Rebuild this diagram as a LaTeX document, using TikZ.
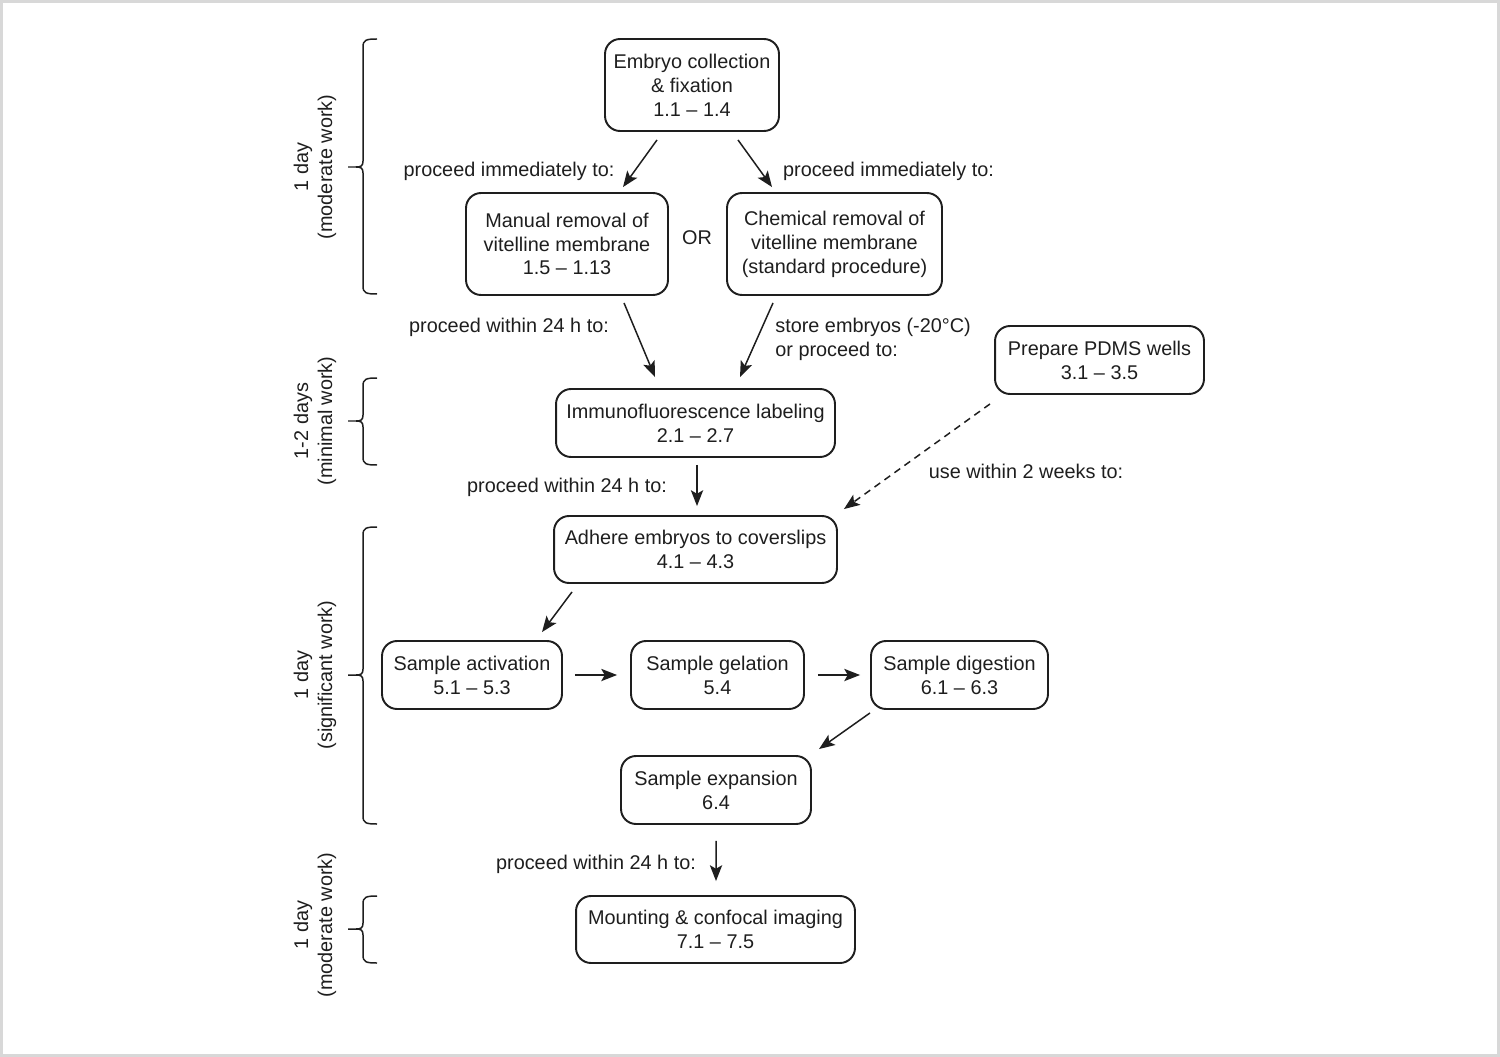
\documentclass[tikz,border=0pt]{standalone}
\usepackage{fontspec}
\setmainfont{Liberation Sans}
\usetikzlibrary{arrows.meta}
\definecolor{framegray}{RGB}{216,216,216}
\definecolor{ink}{RGB}{30,30,30}
\newcommand\daybrace[3]{% top, mid, bottom (px)
  \draw[brc] (377,#1) .. controls (366,#1) and (363,#1+1) .. (363,#1+8)
    -- (363,#2-6) .. controls (363,#2-1) and (361,#2) .. (356,#2) -- (348,#2)
    -- (356,#2) .. controls (361,#2) and (363,#2+1) .. (363,#2+6)
    -- (363,#3-8) .. controls (363,#3-1) and (366,#3) .. (377,#3);}
\begin{document}
\begin{tikzpicture}[x=0.02cm,y=-0.02cm,
  every node/.style={font=\fontsize{11.3}{13.6}\selectfont, text=ink},
  box/.style={draw=ink, line width=1.1pt, rounded corners=0.3cm, align=center, inner sep=0pt,
    execute at begin node={\rule{0pt}{10.5pt}}},
  arr/.style={draw=ink, line width=0.85pt, -{Stealth[length=9pt,width=7pt,inset=2pt]}},
  darr/.style={arr, dashed, dash pattern=on 4pt off 3pt},
  lbl/.style={align=center, inner sep=0pt},
  brc/.style={draw=ink, line width=0.85pt},
  side/.style={rotate=90, align=center, inner sep=0pt}
]
\useasboundingbox (0,0) rectangle (1500,1057);
\draw[framegray, line width=1.7pt] (1.5,1.5) rectangle (1498.5,1055.5);

% boxes
\node[box, minimum width=3.48cm, minimum height=1.84cm] (embryo) at (692,85) {Embryo collection\\\& fixation\\1.1 -- 1.4};
\node[box, minimum width=4.04cm, minimum height=2.04cm] (manual) at (567,244) {Manual removal of\\vitelline membrane\\1.5 -- 1.13};
\node[box, minimum width=4.3cm, minimum height=2.04cm] (chem) at (834.5,244) {Chemical removal of\\vitelline membrane\\(standard procedure)};
\node[lbl] (or) at (697,238) {OR};
\node[box, minimum width=4.18cm, minimum height=1.36cm] (pdms) at (1099.5,360) {Prepare PDMS wells\\3.1 -- 3.5};
\node[box, minimum width=5.58cm, minimum height=1.36cm] (immuno) at (695.5,423) {Immunofluorescence labeling\\2.1 -- 2.7};
\node[box, minimum width=5.66cm, minimum height=1.34cm] (adhere) at (695.5,549.5) {Adhere embryos to coverslips\\4.1 -- 4.3};
\node[box, minimum width=3.6cm, minimum height=1.36cm] (act) at (472,675) {Sample activation\\5.1 -- 5.3};
\node[box, minimum width=3.46cm, minimum height=1.36cm] (gel) at (717.5,675) {Sample gelation\\5.4};
\node[box, minimum width=3.54cm, minimum height=1.36cm] (dig) at (959.5,675) {Sample digestion\\6.1 -- 6.3};
\node[box, minimum width=3.8cm, minimum height=1.36cm] (exp) at (716,790) {Sample expansion\\6.4};
\node[box, minimum width=5.58cm, minimum height=1.34cm] (mount) at (715.5,929.5) {Mounting \& confocal imaging\\7.1 -- 7.5};

% arrows
\draw[arr] ([shift={(-35,8)}]embryo.south) -- ([shift={(56,-5)}]manual.north);
\draw[arr] ([shift={(46,8)}]embryo.south) -- ([shift={(-62.5,-5)}]chem.north);
\draw[arr] ([shift={(57,7)}]manual.south) -- ([shift={(-40.5,-11)}]immuno.north);
\draw[arr] ([shift={(-61.5,7)}]chem.south) -- ([shift={(44.5,-11)}]immuno.north);
\draw[arr] ([shift={(1.5,7)}]immuno.south) -- ([shift={(1.5,-9)}]adhere.north);
\draw[darr] ([shift={(-109.5,9)}]pdms.south) -- ([shift={(6,-6)}]adhere.north east);
\draw[arr] ([shift={(-123.5,8)}]adhere.south) -- ([shift={(70,-8)}]act.north);
\draw[arr] ([shift={(12,0)}]act.east) -- ([shift={(-13,0)}]gel.west);
\draw[arr] ([shift={(13,0)}]gel.east) -- ([shift={(-10,0)}]dig.west);
\draw[arr] ([shift={(-89.5,3)}]dig.south) -- ([shift={(103,-6)}]exp.north);
\draw[arr] ([shift={(0,16)}]exp.south) -- ([shift={(0.5,-14)}]mount.north);

% labels
\node[lbl] (l1) at (509,171) {proceed immediately to:};
\node[lbl] (l2) at (888.5,171) {proceed immediately to:};
\node[lbl] (l3) at (509,327) {proceed within 24 h to:};
\node[lbl, align=left, anchor=west] (l4) at (775,339) {store embryos (-20°C)\\or proceed to:};
\node[lbl] (l5) at (567,487) {proceed within 24 h to:};
\node[lbl] (l6) at (1026,471) {use within 2 weeks to:};
\node[lbl] (l7) at (596,864) {proceed within 24 h to:};

% braces
\daybrace{39}{167}{294}
\daybrace{378}{421}{465}
\daybrace{527}{675}{824}
\daybrace{896}{929}{963}
\node[side] (s1) at (315,167) {1 day\\(moderate work)};
\node[side] (s2) at (315,421) {1-2 days\\(minimal work)};
\node[side] (s3) at (315,675) {1 day\\(significant work)};
\node[side] (s4) at (315,925) {1 day\\(moderate work)};
\end{tikzpicture}
\end{document}
